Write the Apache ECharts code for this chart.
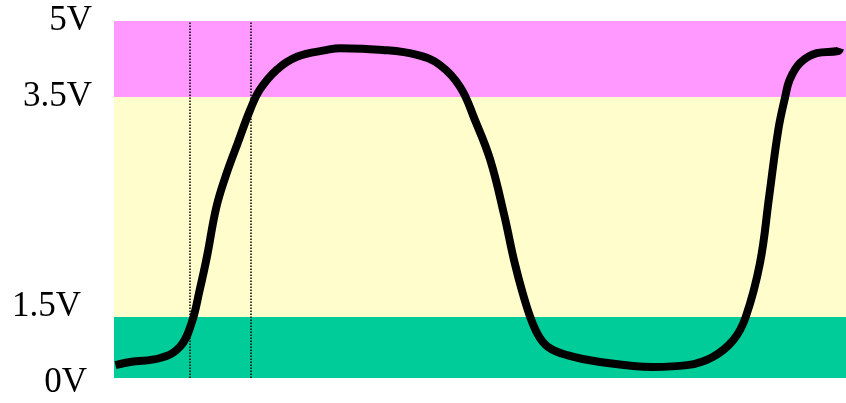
<!DOCTYPE html>
<html>
<head>
<meta charset="utf-8">
<style>
  html, body { margin: 0; padding: 0; background: #ffffff; }
  #chart { width: 846px; height: 403px; }
</style>
<script src="https://cdn.jsdelivr.net/npm/echarts@6/dist/echarts.min.js"></script>
</head>
<body>
<div id="chart"></div>
<script>
// Signal trace: time (0-100) against level (0-100 on the drawn scale)
const timeValues = [0.2, 2.2, 6.3, 9.0, 10.6, 11.7, 12.7, 14.0, 15.4, 16.9, 18.6, 19.9, 22.2, 25.0, 29.1, 30.9,
  36.7, 41.4, 44.5, 47.3, 49.3, 51.4, 53.3, 54.8, 56.4, 57.8, 59.3, 61.9, 66.4, 73.6, 78.3, 81.8, 84.6,
  86.3, 88.25, 89.5, 90.75, 91.7, 92.3, 93.7, 96.0, 98.9, 99.2];
const levelValues = [3.6, 4.5, 5.6, 8.7, 15.4, 24.6, 34.0, 48.0, 57.4, 65.8, 75.1, 80.7, 86.3, 90.0, 91.9, 92.4,
  91.9, 90.5, 87.7, 81.5, 72.3, 61.1, 45.7, 31.7, 19.9, 12.6, 8.7, 6.4, 4.5, 3.1, 3.6, 5.9, 10.6,
  17.1, 32.2, 50.8, 69.5, 78.8, 83.5, 88.2, 91.0, 91.6, 92.4];

// Threshold levels on the drawn scale and their voltage labels
const tickLevels = [0, 17.1, 78.7, 100];
const tickLabels = ['0V', '1.5V', '3.5V', '5V'];

// Band fills: low, undefined, high
const bandColors = ['#00CC99', '#FFFDCC', '#FF99FF'];

// Moments where the rising edge crosses the 1.5V and 3.5V thresholds
const crossTimes = [10.4, 18.7];

const labelStyleKey = { '0V': 'low', '1.5V': 'mid', '3.5V': 'std', '5V': 'std' };

const chart = echarts.init(document.getElementById('chart'), null, { renderer: 'canvas' });

const bands = [];
for (let i = 0; i < bandColors.length; i++) {
  bands.push([
    { yAxis: tickLevels[i], itemStyle: { color: bandColors[i] } },
    { yAxis: tickLevels[i + 1] }
  ]);
}

chart.setOption({
  animation: false,
  backgroundColor: '#ffffff',
  grid: { left: 114, right: 0, top: 21, bottom: 25 },
  xAxis: {
    type: 'value', min: 0, max: 100,
    axisLine: { show: false }, axisTick: { show: false },
    axisLabel: { show: false }, splitLine: { show: false }
  },
  yAxis: {
    type: 'value', min: 0, max: 100,
    axisLine: { show: false }, axisTick: { show: false }, splitLine: { show: false },
    axisLabel: {
      customValues: tickLevels,
      margin: 22,
      formatter: function (v) {
        const idx = tickLevels.indexOf(v);
        const text = tickLabels[idx];
        return '{' + labelStyleKey[text] + '|' + text + '}';
      },
      rich: {
        std: { fontFamily: 'Liberation Serif', fontSize: 35, color: '#000' },
        mid: { fontFamily: 'Liberation Serif', fontSize: 35, color: '#000', padding: [0, 11, 20, 0] },
        low: { fontFamily: 'Liberation Serif', fontSize: 35, color: '#000', padding: [10, 5, 0, 0] }
      }
    }
  },
  series: [
    {
      type: 'line',
      data: [],
      silent: true,
      markArea: { silent: true, data: bands }
    },
    {
      type: 'line',
      data: timeValues.map((t, i) => [t, levelValues[i]]),
      smooth: 0.4,
      showSymbol: false,
      z: 5,
      lineStyle: { color: '#000000', width: 8 },
      markLine: {
        silent: true,
        symbol: 'none',
        label: { show: false },
        lineStyle: { color: '#000000', type: 'dotted', width: 1.5 },
        data: crossTimes.map(t => ({ xAxis: t }))
      }
    }
  ]
});
</script>
</body>
</html>
